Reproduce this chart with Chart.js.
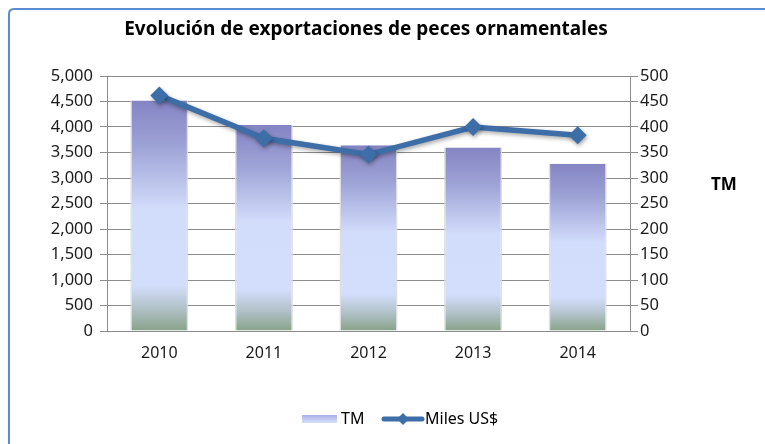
<!DOCTYPE html>
<html>
<head>
<meta charset="utf-8">
<script src="https://cdn.jsdelivr.net/npm/chart.js@4"></script>
<style>
  html, body { margin: 0; padding: 0; background: #fff; }
  #wrap { width: 765px; height: 444px; position: relative; }
</style>
</head>
<body>
<div id="wrap"><canvas id="exportChart"></canvas></div>
<script>
const years = ["2010", "2011", "2012", "2013", "2014"];
const toneladas = [4520, 4040, 3640, 3600, 3280];
const milesUSD = [462, 378, 346, 400, 384];
const leftTicks = [0, 500, 1000, 1500, 2000, 2500, 3000, 3500, 4000, 4500, 5000];
const rightTicks = [0, 50, 100, 150, 200, 250, 300, 350, 400, 450, 500];

const FONT = "'Noto Sans', sans-serif";
const lineBlue = "#3d6ea8";

// vertical gradient per bar: purple top, pale blue middle, green foot
function barFill(ctx) {
  const chart = ctx.chart;
  const y = chart.scales.y;
  if (!chart.chartArea || !y || ctx.raw === undefined) return "#b9c4f0";
  const top = y.getPixelForValue(ctx.raw);
  const bottom = y.getPixelForValue(0);
  if (!isFinite(top) || bottom - top < 1) return "#b9c4f0";
  const g = chart.ctx.createLinearGradient(0, top, 0, bottom);
  g.addColorStop(0, "#8484c3");
  g.addColorStop(0.2, "#9ea3d6");
  g.addColorStop(0.47, "#d2dcfb");
  g.addColorStop(0.8, "#d3defc");
  g.addColorStop(0.9, "#b2c2c9");
  g.addColorStop(1, "#88a289");
  return g;
}

const decorations = {
  id: "decorations",
  beforeDraw(chart) {
    const c = chart.ctx;
    c.save();
    c.fillStyle = "#fff";
    c.fillRect(0, 0, chart.width, chart.height);
    // outer frame (top and left edges)
    c.strokeStyle = "#5b8bd0";
    c.lineWidth = 2;
    c.beginPath();
    c.moveTo(9, 444);
    c.lineTo(9, 14);
    c.quadraticCurveTo(9, 9, 14, 9);
    c.lineTo(765, 9);
    c.stroke();
    c.restore();
  },
  beforeDatasetDraw(chart, args) {
    if (args.index === 0) {
      chart.ctx.save();
      chart.ctx.shadowColor = "rgba(0,0,0,0.35)";
      chart.ctx.shadowBlur = 4;
      chart.ctx.shadowOffsetX = 1;
      chart.ctx.shadowOffsetY = 2;
    }
  },
  afterDatasetDraw(chart, args) {
    if (args.index === 0) chart.ctx.restore();
  },
  afterDraw(chart) {
    const c = chart.ctx;
    const sets = chart.data.datasets;
    const barSet = sets.find(d => d.type === "bar");
    const lineSet = sets.find(d => d.type === "line");
    c.save();
    c.fillStyle = "#000";
    c.textBaseline = "middle";
    // title
    c.font = "bold 19px " + FONT;
    c.textAlign = "center";
    c.fillText("Evolución de exportaciones de peces ornamentales", 366, 30);
    // right axis caption
    c.font = "bold 17px " + FONT;
    c.textAlign = "left";
    c.fillText("TM", 711, 185);

    // legend
    const ly = 419;
    const g = c.createLinearGradient(0, ly - 4, 0, ly + 4);
    g.addColorStop(0, "#a9b0e6");
    g.addColorStop(1, "#d8e0fc");
    c.fillStyle = g;
    c.fillRect(302, ly - 4, 35, 8);
    c.fillStyle = "#000";
    c.font = "16px " + FONT;
    c.fillText(barSet.label, 341, ly);

    c.strokeStyle = lineBlue;
    c.lineWidth = 5;
    c.lineCap = "round";
    c.beginPath();
    c.moveTo(384, ly);
    c.lineTo(422, ly);
    c.stroke();
    c.fillStyle = lineBlue;
    c.beginPath();
    c.moveTo(403, ly - 6);
    c.lineTo(409, ly);
    c.lineTo(403, ly + 6);
    c.lineTo(397, ly);
    c.closePath();
    c.fill();
    c.fillStyle = "#000";
    c.fillText(lineSet.label, 425, ly);
    c.restore();
  }
};

new Chart(document.getElementById("exportChart").getContext("2d"), {
  data: {
    labels: years,
    datasets: [
      {
        type: "line",
        label: "Miles US$",
        data: milesUSD,
        yAxisID: "y1",
        borderColor: lineBlue,
        backgroundColor: lineBlue,
        borderWidth: 5.5,
        pointStyle: "rectRot",
        pointRadius: 9,
        pointBorderWidth: 0,
        pointBackgroundColor: lineBlue,
        tension: 0,
        order: 0
      },
      {
        type: "bar",
        label: "TM",
        data: toneladas,
        yAxisID: "y",
        backgroundColor: barFill,
        borderColor: "rgba(220,220,220,0.9)",
        borderWidth: { left: 1.5, right: 1.5, top: 0, bottom: 0 },
        categoryPercentage: 1,
        barPercentage: 0.555,
        order: 1
      }
    ]
  },
  options: {
    responsive: true,
    maintainAspectRatio: false,
    animation: false,
    layout: { padding: { top: 76, left: 0, right: 0, bottom: 0 } },
    plugins: {
      legend: { display: false },
      title: { display: false },
      tooltip: { enabled: false }
    },
    scales: {
      x: {
        grid: { display: false, drawTicks: false },
        border: { color: "#8c8c8c", width: 1 },
        ticks: { color: "#1a1a1a", font: { family: FONT, size: 16 }, padding: 13 },
        afterFit(s) { s.height = 113; }
      },
      y: {
        position: "left",
        min: 0,
        max: 5000,
        afterBuildTicks(s) { s.ticks = leftTicks.map(v => ({ value: v })); },
        ticks: {
          color: "#1a1a1a",
          font: { family: FONT, size: 16.5 },
          padding: 7,
          callback: v => v.toLocaleString("en-US")
        },
        grid: { color: "#8c8c8c", lineWidth: 1, tickLength: 7 },
        border: { color: "#8c8c8c" },
        afterFit(s) { s.width = 107; }
      },
      y1: {
        position: "right",
        min: 0,
        max: 500,
        afterBuildTicks(s) { s.ticks = rightTicks.map(v => ({ value: v })); },
        ticks: {
          color: "#1a1a1a",
          font: { family: FONT, size: 16.5 },
          padding: 2
        },
        grid: { drawOnChartArea: false, color: "#8c8c8c", tickLength: 8 },
        border: { color: "#8c8c8c" },
        afterFit(s) { s.width = 135; }
      }
    }
  },
  plugins: [decorations]
});
</script>
</body>
</html>
